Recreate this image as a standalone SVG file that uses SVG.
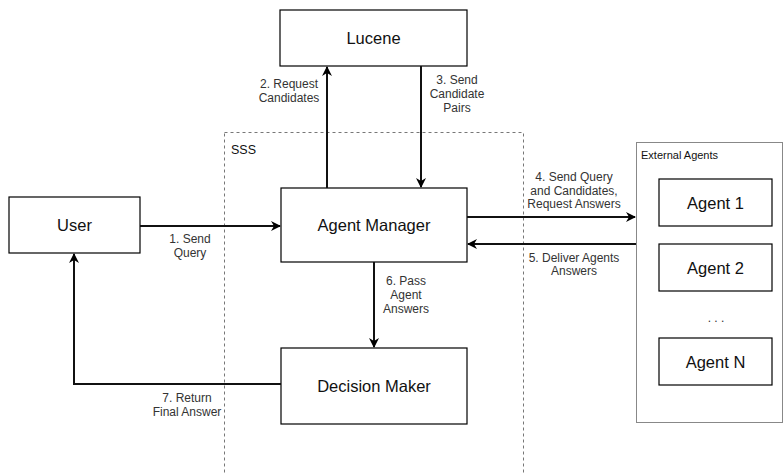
<svg xmlns="http://www.w3.org/2000/svg" width="784" height="474" viewBox="0 0 784 474">
<defs>
<marker id="ah" viewBox="0 0 10 10" refX="9" refY="5" markerWidth="5" markerHeight="5" orient="auto" markerUnits="strokeWidth">
<path d="M0,0 L10,5 L0,10 L3,5 Z" fill="#000"/>
</marker>
<style>
.box{fill:#fff;stroke:#000;stroke-width:1.2}
.nl{font-family:"Liberation Sans",Arial,sans-serif;font-size:16.5px;fill:#111;text-anchor:middle;dominant-baseline:central}
.el{font-family:"Liberation Sans",Arial,sans-serif;font-size:12px;fill:#333;text-anchor:middle}
.cn{fill:none;stroke:#111;stroke-width:2;marker-end:url(#ah)}
</style>
</defs>
<rect width="784" height="474" fill="#fff"/>
<g id="sss">
<rect x="224.5" y="132.5" width="299" height="360" fill="none" stroke="#777" stroke-width="1" stroke-dasharray="3,3"/>
<text x="231" y="154" font-family="'Liberation Sans',Arial,sans-serif" font-size="12.5" fill="#111">SSS</text>
</g>
<g id="external-agents">
<rect x="636.5" y="142.5" width="146" height="280" fill="#fff" stroke="#888" stroke-width="1"/>
<text x="641" y="159" font-family="'Liberation Sans',Arial,sans-serif" font-size="11" fill="#111">External Agents</text>
</g>
<g id="lucene"><rect class="box" x="280" y="10" width="187" height="56"/><text class="nl" x="373.5" y="38">Lucene</text></g>
<g id="user"><rect class="box" x="9" y="197" width="131" height="56"/><text class="nl" x="74.5" y="225">User</text></g>
<g id="agent-manager"><rect class="box" x="281" y="188" width="186" height="74"/><text class="nl" x="374" y="225">Agent Manager</text></g>
<g id="decision-maker"><rect class="box" x="281" y="348" width="186" height="76"/><text class="nl" x="374" y="386">Decision Maker</text></g>
<g id="agent-1"><rect class="box" x="659" y="179" width="113" height="47"/><text class="nl" x="715.5" y="202.5">Agent 1</text></g>
<g id="agent-2"><rect class="box" x="659" y="244" width="113" height="47"/><text class="nl" x="715.5" y="267.5">Agent 2</text></g>
<g id="agent-n"><rect class="box" x="659" y="338" width="113" height="47"/><text class="nl" x="715.5" y="361.5">Agent N</text></g>
<text x="716" y="322" font-family="'Liberation Sans',Arial,sans-serif" font-size="12" fill="#333" text-anchor="middle">. . .</text>
<g id="connectors">
<path class="cn" d="M140,226 H280"/>
<path class="cn" d="M327,188 V67"/>
<path class="cn" d="M421,66 V187"/>
<path class="cn" d="M467,217 H635"/>
<path class="cn" d="M636,244 H468"/>
<path class="cn" d="M374,262 V347"/>
<path class="cn" d="M281,384 H74 V254"/>
</g>
<g id="labels">
<text class="el" x="190" y="242.5">1. Send</text><text class="el" x="190" y="256.5">Query</text>
<text class="el" x="289" y="87.5">2. Request</text><text class="el" x="289" y="101.5">Candidates</text>
<text class="el" x="457" y="83.5">3. Send</text><text class="el" x="457" y="97.5">Candidate</text><text class="el" x="457" y="111.5">Pairs</text>
<text class="el" x="574" y="180.5">4. Send Query</text><text class="el" x="574" y="194.5">and Candidates,</text><text class="el" x="574" y="208">Request Answers</text>
<text class="el" x="574" y="261.5">5. Deliver Agents</text><text class="el" x="574" y="275">Answers</text>
<text class="el" x="406" y="284.5">6. Pass</text><text class="el" x="406" y="298.5">Agent</text><text class="el" x="406" y="312.5">Answers</text>
<text class="el" x="187" y="401.5">7. Return</text><text class="el" x="187" y="415.5">Final Answer</text>
</g>
</svg>
